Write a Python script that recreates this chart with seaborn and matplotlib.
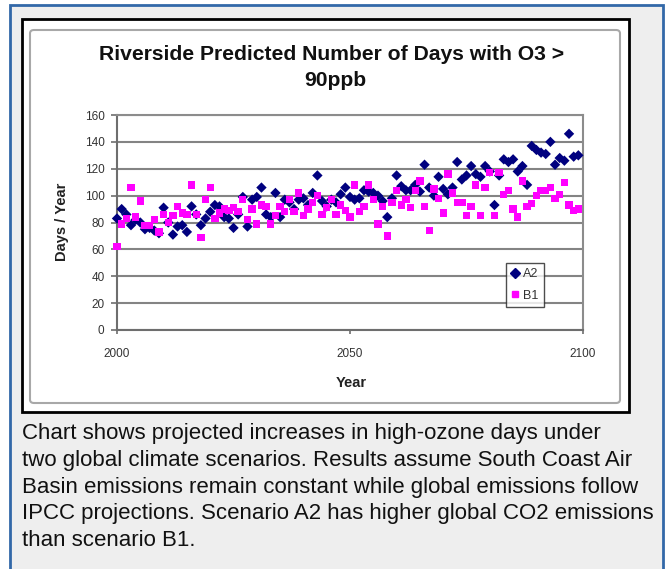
import numpy as np
import pandas as pd
import seaborn as sns
import matplotlib.pyplot as plt
from matplotlib.patches import Rectangle, FancyBboxPatch
from matplotlib.lines import Line2D

# data (one point per year)
years = list(range(2000, 2100))
a2_days = [83, 90, 86, 78, 82, 80, 75, 76, 74, 72,
           91, 80, 71, 77, 78, 73, 92, 86, 78, 83,
           88, 93, 92, 84, 83, 76, 86, 99, 77, 97,
           99, 106, 86, 84, 102, 84, 97, 95, 90, 97,
           98, 93, 102, 115, 96, 92, 97, 95, 101, 106,
           99, 97, 98, 104, 103, 102, 100, 96, 84, 98,
           115, 107, 104, 104, 108, 103, 123, 106, 100, 114,
           105, 101, 106, 125, 112, 115, 122, 116, 114, 122,
           118, 93, 115, 127, 125, 127, 118, 122, 108, 137,
           134, 132, 131, 140, 123, 128, 126, 146, 129, 130]
b1_days = [62, 79, 83, 106, 84, 96, 78, 78, 82, 73,
           86, 80, 85, 92, 87, 86, 108, 86, 69, 97,
           106, 83, 87, 90, 89, 91, 88, 97, 82, 90,
           79, 93, 92, 79, 85, 92, 88, 97, 88, 102,
           85, 90, 95, 100, 86, 91, 97, 86, 93, 89,
           84, 108, 88, 92, 108, 97, 79, 92, 70, 95,
           104, 93, 97, 91, 104, 111, 92, 74, 105, 98,
           87, 116, 102, 95, 95, 85, 92, 108, 85, 106,
           117, 85, 117, 101, 104, 90, 84, 111, 92, 94,
           100, 104, 104, 106, 98, 101, 110, 93, 89, 90]
scenarios = ["A2", "B1"]
y_ticks = [0, 20, 40, 60, 80, 100, 120, 140, 160]
x_ticks = [2000, 2050, 2100]
title_lines = ["Riverside Predicted Number of Days with O3 >", "90ppb"]
caption_lines = [
    "Chart shows projected increases in high-ozone days under",
    "two global climate scenarios. Results assume South Coast Air",
    "Basin emissions remain constant while global emissions follow",
    "IPCC projections. Scenario A2 has higher global CO2 emissions",
    "than scenario B1.",
]

df = pd.DataFrame({
    "Year": years * 2,
    "Days": a2_days + b1_days,
    "Scenario": ["A2"] * len(a2_days) + ["B1"] * len(b1_days),
})
colors = {"A2": "#00007F", "B1": "#FF00FF"}
markers = {"A2": "D", "B1": "s"}

sns.set_style("white")
plt.rcParams["font.family"] = ["Liberation Sans", "DejaVu Sans"]

W, H = 671, 569
fig = plt.figure(figsize=(W / 100, H / 100), dpi=100)
fig.patch.set_facecolor("white")

# page panel, framed box and chart area (kept behind the axes)
fig.patches.append(Rectangle((10 / W, -0.02), (663 - 10) / W, 1 - 5 / H + 0.02,
                             transform=fig.transFigure, facecolor="#EEEEEE",
                             edgecolor="#3268A8", lw=2, zorder=-10))
fig.patches.append(Rectangle((22 / W, 1 - 412 / H), (629 - 22) / W, (412 - 19) / H,
                             transform=fig.transFigure, facecolor="white",
                             edgecolor="black", lw=2, zorder=-9))
fig.patches.append(FancyBboxPatch((30 / W, 1 - 403 / H), (620 - 30) / W, (403 - 30) / H,
                                  boxstyle="round,pad=0,rounding_size=0.006",
                                  transform=fig.transFigure, facecolor="white",
                                  edgecolor="#A8A8A8", lw=1.5, zorder=-8))

ax = fig.add_axes([117 / W, 1 - 330 / H, (583 - 117) / W, (330 - 115) / H])
ax.set_zorder(2)
sns.scatterplot(data=df, x="Year", y="Days", hue="Scenario", style="Scenario",
                palette=colors, markers=markers, s=28, linewidth=0,
                legend=False, ax=ax, zorder=3)
for coll in ax.collections:
    coll.set_clip_on(False)

ax.set_xlim(2000, 2100)
ax.set_ylim(0, 160)
ax.set_xticks(x_ticks)
ax.set_yticks(y_ticks)
ax.set_xlabel("")
ax.set_ylabel("")
ax.set_facecolor("white")
ax.yaxis.grid(True, color="#848484", lw=1.5)
ax.set_axisbelow(True)
for side, sp in ax.spines.items():
    sp.set_visible(True)
    sp.set_color("#8C8C8C" if side in ("top", "right") else "#6E6E6E")
    sp.set_linewidth(1.5)
ax.tick_params(axis="y", direction="out", length=4, width=1.2, color="#6E6E6E",
               labelsize=8.5, labelcolor="#333333", pad=5, left=True)
ax.tick_params(axis="x", direction="out", length=3, width=1.2, color="#6E6E6E",
               labelsize=8.5, labelcolor="#333333", pad=10, bottom=True)

# legend
handles = [Line2D([], [], ls="", marker=markers[k], color=colors[k], markersize=4.8, label=k)
           for k in scenarios]
leg = ax.legend(handles=handles, loc="center", bbox_to_anchor=(525 / W, 1 - 285 / H),
                bbox_transform=fig.transFigure, fancybox=False, frameon=True,
                fontsize=9, handlelength=0.6, handletextpad=0.3, borderpad=0.45,
                labelspacing=0.75, borderaxespad=0)
leg.get_frame().set_edgecolor("#222222")
leg.get_frame().set_linewidth(1.0)
for t in leg.get_texts():
    t.set_color("#333333")

# titles and axis labels
fig.text(332 / W, 1 - 55 / H, title_lines[0], ha="center", va="center",
         fontsize=15.2, fontweight="bold", color="#111111")
fig.text(335 / W, 1 - 80 / H, title_lines[1], ha="center", va="center",
         fontsize=15.2, fontweight="bold", color="#111111")
fig.text(62 / W, 1 - 222 / H, "Days / Year", rotation=90, ha="center", va="center",
         fontsize=10.5, fontweight="bold", color="#222222")
fig.text(351 / W, 1 - 383 / H, "Year", ha="center", va="center",
         fontsize=10.5, fontweight="bold", color="#222222")

# caption
for i, line in enumerate(caption_lines):
    fig.text(22 / W, 1 - (434 + 26.6 * i) / H, line, ha="left", va="center",
             fontsize=16, color="#111111")

fig.savefig("out.png", dpi=100)
